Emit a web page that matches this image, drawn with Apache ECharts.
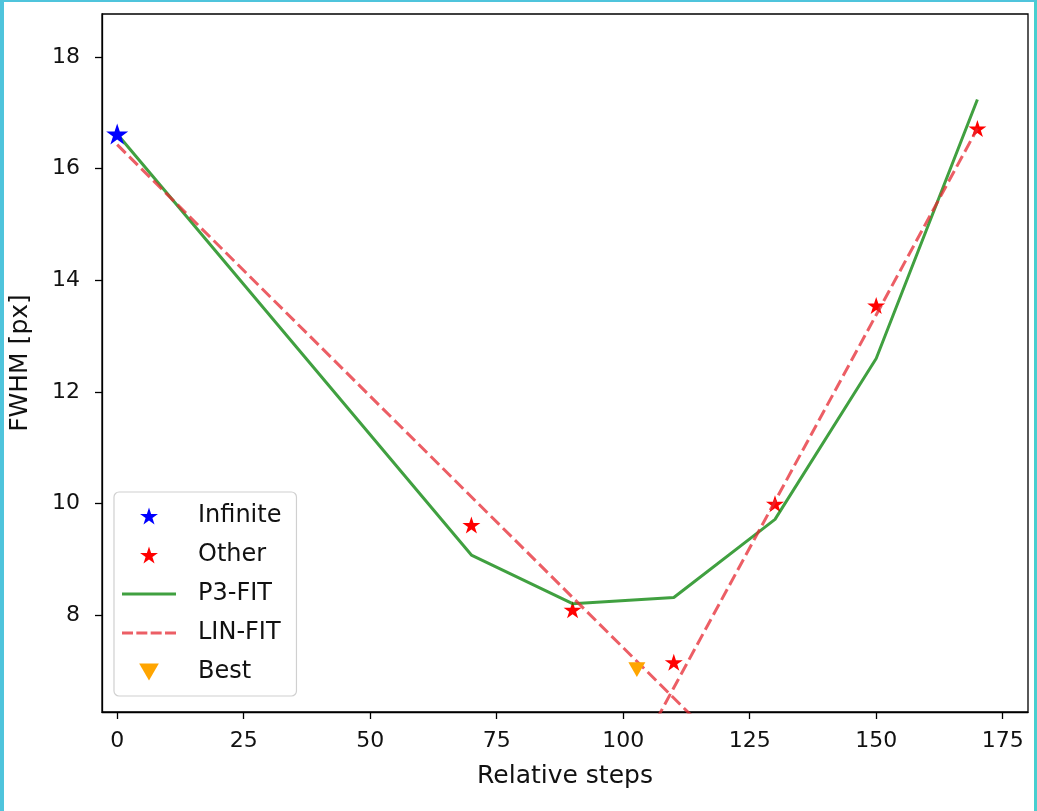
<!DOCTYPE html>
<html>
<head>
<meta charset="utf-8">
<script src="https://cdn.jsdelivr.net/npm/echarts@6/dist/echarts.min.js"></script>
<style>
html,body{margin:0;padding:0;background:#fff;}
#wrap{position:relative;width:1037px;height:811px;}
#chart{width:1037px;height:811px;}
#frame{position:absolute;left:0;top:0;right:0;bottom:0;pointer-events:none;
 border-left:4px solid #4fc4dc;border-right:3px solid #47cfd0;border-top:2px solid #4fc4dc;}
</style>
</head>
<body>
<div id="wrap"><div id="chart"></div><div id="frame"></div></div>
<script>
// ---- data ----
const steps = [0, 70, 90, 110, 130, 150, 170];
const infinitePoint = [[0, 16.62]];
const otherFWHM = [16.62, 9.62, 8.10, 7.16, 10.00, 13.55, 16.72];
const p3Fit = [16.62, 9.08, 8.21, 8.32, 9.72, 12.60, 17.24];
const linFitLeft = [[0, 16.43], [115, 6.07]];
const linFitRight = [[105, 5.87], [170, 16.72]];
const bestPoint = [[102.7, 7.03]];
const xTicks = [0, 25, 50, 75, 100, 125, 150, 175];
const yTicks = [8, 10, 12, 14, 16, 18];

const STAR = 'path://M100 0 L122.45 69.1 L195.11 69.1 L136.33 111.8 L158.78 180.9 L100 138.2 L41.22 180.9 L63.67 111.8 L4.89 69.1 L77.55 69.1 Z';
const TRI_DOWN = 'path://M0 0 L20 0 L10 17.3 Z';
const SOLID_ICON = 'path://M0 0 H54 V3 H0 Z';
const DASH_ICON = 'path://M0 0 H11 V3 H0 Z M14.33 0 H25.33 V3 H14.33 Z M28.67 0 H39.67 V3 H28.67 Z M43 0 H54 V3 H43 Z';
const FONT = 'DejaVu Sans';
const GREEN = 'rgba(0,128,0,0.75)';
const REDL = 'rgba(230,40,50,0.75)';

const chart = echarts.init(document.getElementById('chart'), null, {renderer: 'canvas'});
const option = {
  animation: false,
  backgroundColor: '#fff',
  textStyle: {fontFamily: FONT},
  grid: {left: 102, right: 9, top: 14, bottom: 99, show: true, borderColor: '#000', borderWidth: 1.3, backgroundColor: 'transparent'},
  xAxis: {
    type: 'value', min: -3, max: 180,
    name: 'Relative steps', nameLocation: 'middle', nameGap: 52,
    nameTextStyle: {fontFamily: FONT, fontSize: 25, color: '#111'},
    axisLine: {show: true, onZero: false, lineStyle: {color: '#000', width: 1.3}},
    axisTick: {show: true, length: 7, customValues: xTicks, lineStyle: {color: '#000', width: 1.3}},
    axisLabel: {customValues: xTicks, margin: 18, fontFamily: FONT, fontSize: 22, color: '#111'},
    splitLine: {show: false}
  },
  yAxis: {
    type: 'value', min: 6.27, max: 18.77,
    name: 'FWHM [px]', nameLocation: 'middle', nameGap: 69, nameRotate: 90,
    nameTextStyle: {fontFamily: FONT, fontSize: 25, color: '#111'},
    axisLine: {show: true, onZero: false, lineStyle: {color: '#000', width: 1.3}},
    axisTick: {show: true, length: 7, customValues: yTicks, lineStyle: {color: '#000', width: 1.3}},
    axisLabel: {customValues: yTicks, margin: 22, fontFamily: FONT, fontSize: 22, color: '#111'},
    splitLine: {show: false}
  },
  legend: {
    orient: 'vertical', left: 114, top: 492,
    data: [
      {name: 'Infinite', icon: STAR},
      {name: 'Other', icon: STAR},
      {name: 'P3-FIT', icon: SOLID_ICON},
      {name: 'LIN-FIT', icon: DASH_ICON},
      {name: 'Best', icon: TRI_DOWN}
    ],
    itemWidth: 54, itemHeight: 17, itemGap: 15,
    padding: [12, 15, 12, 8],
    backgroundColor: 'rgba(255,255,255,0.8)',
    borderColor: '#d0d0d0', borderWidth: 1.2, borderRadius: 5,
    textStyle: {fontFamily: FONT, fontSize: 24, color: '#111', lineHeight: 22, padding: [0, 0, 0, 17]}
  },
  series: [
    {
      name: 'Other', type: 'scatter', z: 2,
      symbol: STAR, symbolSize: 18, symbolKeepAspect: true,
      itemStyle: {color: '#ff0000', opacity: 1},
      data: steps.map((s, i) => [s, otherFWHM[i]])
    },
    {
      name: 'P3-FIT', type: 'line', z: 3, symbol: 'none', showSymbol: false,
      lineStyle: {color: GREEN, width: 3},
      itemStyle: {color: GREEN},
      data: steps.map((s, i) => [s, p3Fit[i]])
    },
    {
      name: 'LIN-FIT', type: 'line', z: 3, symbol: 'none', showSymbol: false, clip: true,
      lineStyle: {color: REDL, width: 3, type: [12, 5]},
      itemStyle: {color: REDL},
      data: linFitLeft
    },
    {
      name: 'LIN-FIT', type: 'line', z: 3, symbol: 'none', showSymbol: false, clip: true,
      lineStyle: {color: REDL, width: 3, type: [12, 5]},
      itemStyle: {color: REDL},
      data: linFitRight
    },
    {
      name: 'Infinite', type: 'scatter', z: 4,
      symbol: STAR, symbolSize: 22, symbolKeepAspect: true,
      itemStyle: {color: '#0000ff', opacity: 1},
      data: infinitePoint
    },
    {
      name: 'Best', type: 'scatter', z: 4,
      symbol: TRI_DOWN, symbolSize: 17, symbolKeepAspect: true,
      itemStyle: {color: '#ffa500', opacity: 1},
      data: bestPoint
    }
  ]
};
chart.setOption(option);
</script>
</body>
</html>
